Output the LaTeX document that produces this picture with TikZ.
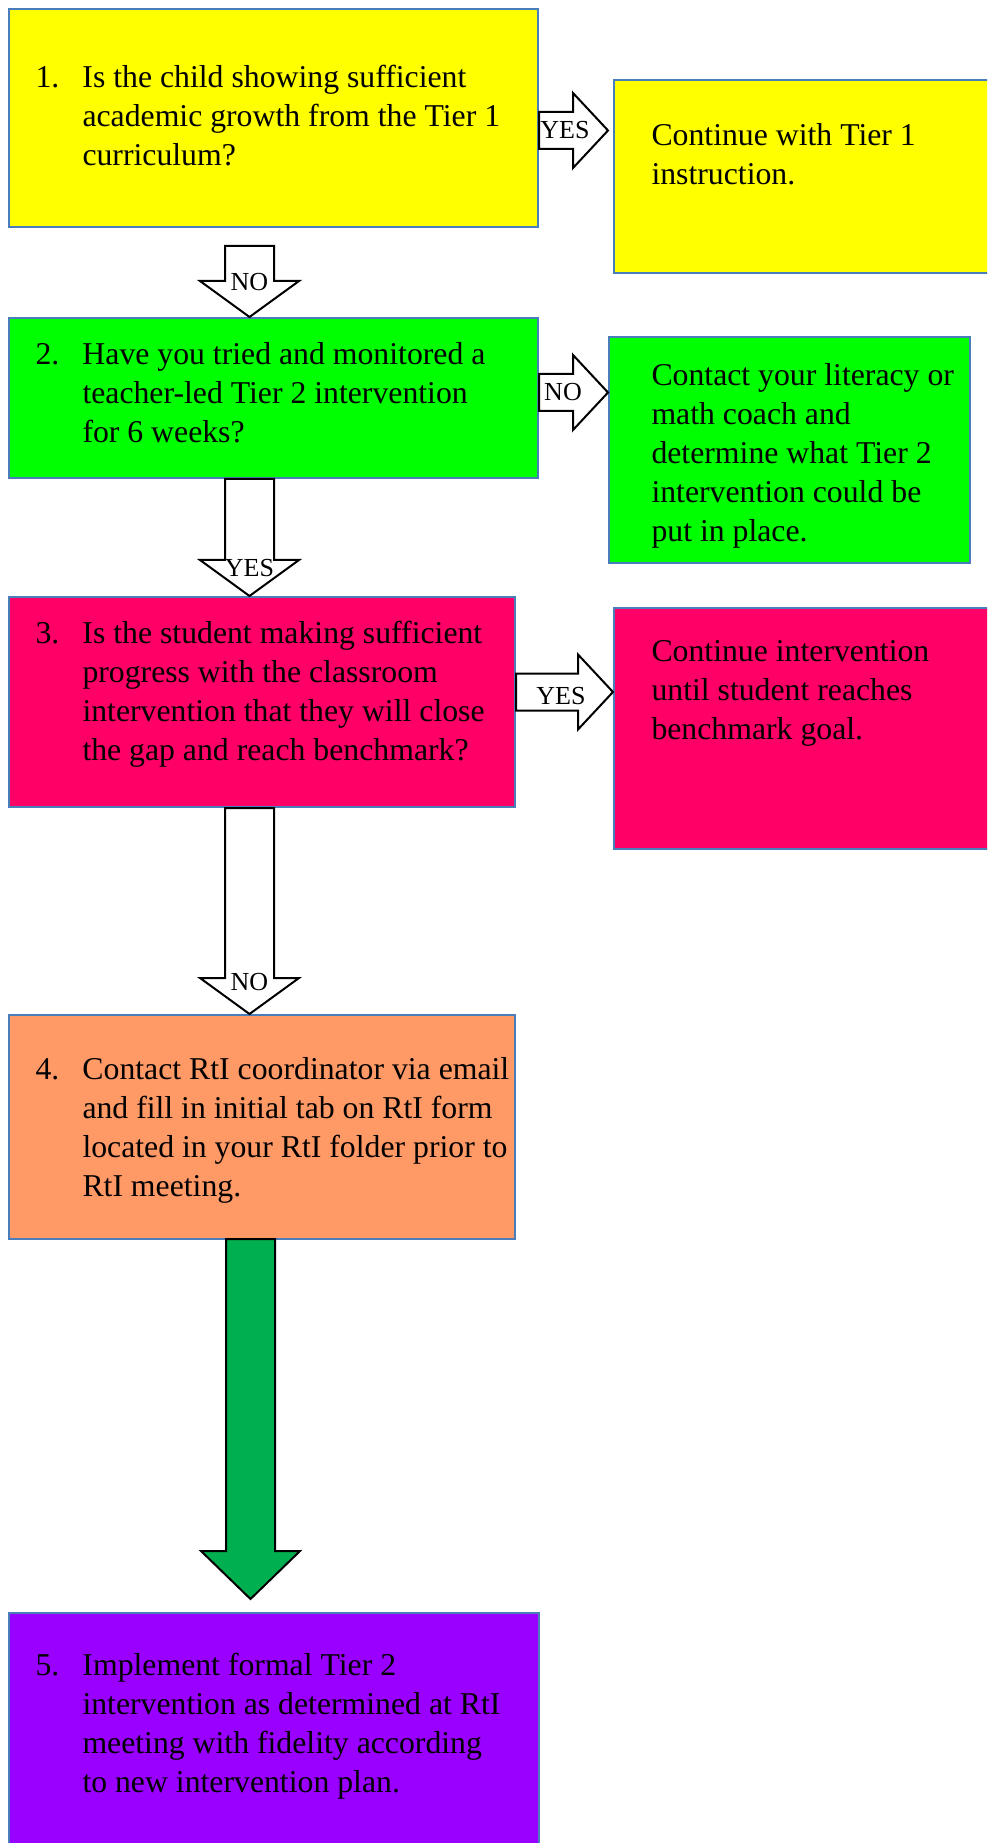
\documentclass[tikz,border=0pt]{standalone}
\usepackage{fontspec}
\setmainfont{Liberation Serif}
\usetikzlibrary{calc,fit}

\definecolor{boxline}{HTML}{4A7EBB}
\definecolor{tieryellow}{HTML}{FFFF00}
\definecolor{tiergreen}{HTML}{00FF00}
\definecolor{tierpink}{HTML}{FF0066}
\definecolor{tierorange}{HTML}{FF9966}
\definecolor{tierpurple}{HTML}{9900FF}
\definecolor{gogreen}{HTML}{00B050}

\tikzset{
  box/.style={draw=boxline, line width=0.8pt, inner sep=0pt},
  blk/.style={draw=black, line width=0.8pt, line join=miter},
  qtext/.style={inner sep=0pt, anchor=west, font=\fontsize{12.7}{15.6}\selectfont},
  lbl/.style={inner sep=0pt, font=\fontsize{10.4}{12}\selectfont},
}

% numbered question, later lines hang under the text
\newcommand{\qitem}[2]{\begin{tabular}{@{}p{18.8pt}@{}l@{}}#1 & #2\end{tabular}}
\newcommand{\qlines}[1]{\begin{tabular}{@{}l@{}}#1\end{tabular}}

% block arrow down: fill, head length, tail, tip
\newcommand{\vblock}[4]{%
  \draw[blk, fill=#1] ($(#3)+(-24.5,0)$) -- ($(#3)+(24.5,0)$) -- ($(#4)+(24.5,-#2)$)
    -- ($(#4)+(49.5,-#2)$) -- (#4) -- ($(#4)+(-49.5,-#2)$) -- ($(#4)+(-24.5,-#2)$) -- cycle;}
% block arrow right: tail, tip
\newcommand{\hblock}[2]{%
  \draw[blk, fill=white] ($(#1)+(0,-18.5)$) -- ($(#2)+(-35,-18.5)$) -- ($(#2)+(-35,-37.5)$)
    -- (#2) -- ($(#2)+(-35,37.5)$) -- ($(#2)+(-35,18.5)$) -- ($(#1)+(0,18.5)$) -- cycle;}

\begin{document}
\begin{tikzpicture}[x=0.4pt, y=-0.4pt] % 1 unit = 1 px of the page, y runs down
\useasboundingbox (0,0) rectangle (987,1843);
\clip (0,0) rectangle (987,1843);

%% questions on the left
\node[box, fill=tieryellow, fit={(9,9) (538,227)}] (b1) {};
\node[box, fill=tiergreen, fit={(9,318) (538,478)}] (b2) {};
\node[box, fill=tierpink, fit={(9,597) (515,807)}] (b3) {};
\node[box, fill=tierorange, fit={(9,1015) (515,1239)}] (b4) {};
\node[box, fill=tierpurple, fit={(9,1613) (539,1870)}] (b5) {};

%% answers on the right (they run off the page)
\node[box, fill=tieryellow, fit={(614,80) (1010,273)}] (b1r) {};
\node[box, fill=tiergreen, fit={(609,337) (970,563)}] (b2r) {};
\node[box, fill=tierpink, fit={(614,608) (1010,849)}] (b3r) {};

%% texts
\node[qtext] (t1) at (35,118.5) {\qitem{1.}{Is the child showing sufficient\\ & academic growth from the Tier 1\\ & curriculum?}};
\node[qtext] (t2) at (35,396) {\qitem{2.}{Have you tried and monitored a\\ & teacher-led Tier 2 intervention\\ & for 6 weeks?}};
\node[qtext] (t3) at (35,694) {\qitem{3.}{Is the student making sufficient\\ & progress with the classroom\\ & intervention that they will close\\ & the gap and reach benchmark?}};
\node[qtext] (t4) at (35,1130.5) {\qitem{4.}{Contact RtI coordinator via email\\ & and fill in initial tab on RtI form\\ & located in your RtI folder prior to\\ & RtI meeting.}};
\node[qtext] (t5) at (35,1726.5) {\qitem{5.}{Implement formal Tier 2\\ & intervention as determined at RtI\\ & meeting with fidelity according\\ & to new intervention plan.}};

\node[qtext] (r1) at (651,157.5) {\qlines{Continue with Tier 1\\ instruction.}};
\node[qtext] (r2) at (651,455.5) {\qlines{Contact your literacy or\\ math coach and\\ determine what Tier 2\\ intervention could be\\ put in place.}};
\node[qtext] (r3) at (651,692.5) {\qlines{Continue intervention\\ until student reaches\\ benchmark goal.}};

%% down arrows
\coordinate (a1) at (249.5,246);
\coordinate (a1t) at (a1 |- b2.north);
\coordinate (a2) at (a1 |- b2.south);
\coordinate (a2t) at (a1 |- b3.north);
\coordinate (a3) at (a1 |- b3.south);
\coordinate (a3t) at (a1 |- b4.north);
\vblock{white}{36}{a1}{a1t}
\vblock{white}{36}{a2}{a2t}
\vblock{white}{36}{a3}{a3t}
\node[lbl] (no1) at ($(a1t)+(0,-35)$) {NO};
\node[lbl] (yes2) at ($(a2t)+(0,-28)$) {YES};
\node[lbl] (no3) at ($(a3t)+(0,-32)$) {NO};

% last one is solid green with a longer head
\coordinate (a4) at (250.5,1239);
\coordinate (a4t) at ($(a4 |- b5.north)+(0,-13)$);
\vblock{gogreen}{48}{a4}{a4t}

%% right arrows
\coordinate (h1) at (b1.east |- 0,130.5);
\coordinate (h1t) at ($(b1r.west |- h1)+(-5,0)$);
\coordinate (h2) at (b2.east |- 0,392.5);
\coordinate (h2t) at (b2r.west |- h2);
\coordinate (h3) at (b3.east |- 0,692);
\coordinate (h3t) at (b3r.west |- h3);
\hblock{h1}{h1t}
\hblock{h2}{h2t}
\hblock{h3}{h3t}
\node[lbl] (yes1) at ($(h1t)+(-43,0)$) {YES};
\node[lbl] (no2) at ($(h2t)+(-45,0)$) {NO};
\node[lbl] (yes3) at ($(h3t)+(-52,4)$) {YES};

\end{tikzpicture}
\end{document}
